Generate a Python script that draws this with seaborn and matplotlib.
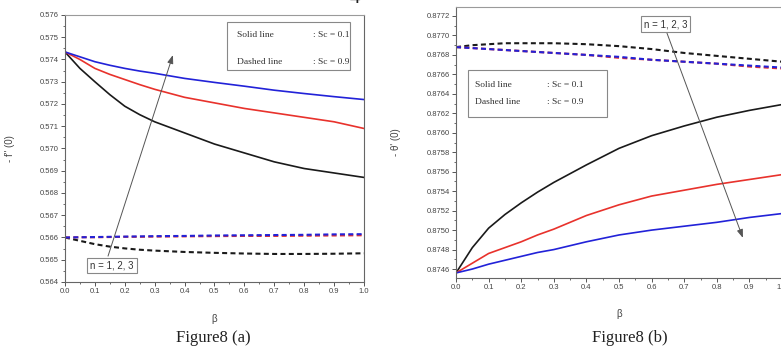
import numpy as np
import pandas as pd
import matplotlib
matplotlib.use('Agg')
import matplotlib.pyplot as plt
import seaborn as sns
from matplotlib.patches import Rectangle
from matplotlib.ticker import MultipleLocator, FormatStrFormatter


# ── Data ───────────────────────────────────────────────────────────────────────

beta = [0.0, 0.05, 0.1, 0.15, 0.2, 0.25, 0.3, 0.4, 0.5, 0.6, 0.7, 0.8, 0.9, 1.0]
n_values = [1, 2, 3]

# Figure8 (a): -f''(0)
fa_sc01_n1 = [0.57434, 0.57360, 0.57300, 0.57242, 0.57190, 0.57152, 0.57120, 0.57070, 0.57020,
              0.56980, 0.56940, 0.56910, 0.56890, 0.56870]
fa_sc01_n2 = [0.57434, 0.57400, 0.57360, 0.57333, 0.57310, 0.57287, 0.57266, 0.57230, 0.57205,
              0.57180, 0.57160, 0.57140, 0.57120, 0.57090]
fa_sc01_n3 = [0.57434, 0.57412, 0.57390, 0.57374, 0.57360, 0.57348, 0.57338, 0.57315, 0.57297,
              0.57280, 0.57262, 0.57247, 0.57233, 0.57220]
fa_sc09_n1 = [0.56600, 0.56585, 0.56570, 0.56559, 0.56551, 0.56545, 0.56541, 0.56535, 0.56531,
              0.56528, 0.56526, 0.56526, 0.56527, 0.56529]
fa_sc09_n2 = [0.56600, 0.56601, 0.56601, 0.56602, 0.56603, 0.56603, 0.56604, 0.56605, 0.56606,
              0.56607, 0.56607, 0.56608, 0.56609, 0.56610]
fa_sc09_n3 = [0.56600, 0.56601, 0.56602, 0.56603, 0.56604, 0.56605, 0.56606, 0.56607, 0.56609,
              0.56610, 0.56611, 0.56612, 0.56614, 0.56615]

# Figure8 (b): -theta'(0)
fb_sc01_n1 = [0.87456, 0.87482, 0.87502, 0.87516, 0.87528, 0.87539, 0.87549, 0.87567, 0.87584,
              0.87597, 0.87607, 0.87616, 0.87623, 0.87629]
fb_sc01_n2 = [0.87456, 0.87466, 0.87476, 0.87482, 0.87488, 0.87495, 0.87501, 0.87515, 0.87526,
              0.87535, 0.87541, 0.87547, 0.87552, 0.87557]
fb_sc01_n3 = [0.87456, 0.87460, 0.87465, 0.87469, 0.87473, 0.87477, 0.87480, 0.87488, 0.87495,
              0.87500, 0.87504, 0.87508, 0.87513, 0.87517]
fb_sc09_n1 = [0.87688, 0.87690, 0.87691, 0.87692, 0.87692, 0.87692, 0.87692, 0.87691, 0.87689,
              0.87686, 0.87682, 0.87679, 0.87676, 0.87673]
fb_sc09_n2 = [0.87688, 0.87687, 0.87686, 0.87685, 0.87684, 0.87683, 0.87682, 0.87680, 0.87677,
              0.87675, 0.87673, 0.87671, 0.87668, 0.87666]
fb_sc09_n3 = [0.87688, 0.87687, 0.87686, 0.87685, 0.87684, 0.87683, 0.87682, 0.87680, 0.87678,
              0.87675, 0.87673, 0.87671, 0.87669, 0.87667]

line_colors = {1: '#1a1a1a', 2: '#e8322c', 3: '#2222d8'}


def long_frame(curves):
    rows = []
    for (n, sc), vals in curves.items():
        for b, v in zip(beta, vals):
            rows.append({'beta': b, 'val': v, 'n': n, 'Sc': sc})
    return pd.DataFrame(rows)


def draw_curves(ax, df):
    sns.lineplot(data=df[df.Sc == 0.9], x='beta', y='val', hue='n', style='Sc',
                 palette=line_colors, dashes={0.9: (2.4, 1.6)}, lw=1.5,
                 legend=False, ax=ax)
    sns.lineplot(data=df[df.Sc == 0.1], x='beta', y='val', hue='n',
                 palette=line_colors, lw=1.2, legend=False, ax=ax)


def style_axes(ax, ystep, yfmt):
    ax.set_xlim(0, 1)
    ax.xaxis.set_major_locator(MultipleLocator(0.1))
    ax.xaxis.set_minor_locator(MultipleLocator(0.05))
    ax.xaxis.set_major_formatter(FormatStrFormatter('%.1f'))
    ax.yaxis.set_major_locator(MultipleLocator(ystep))
    ax.yaxis.set_minor_locator(MultipleLocator(ystep / 2))
    ax.yaxis.set_major_formatter(FormatStrFormatter(yfmt))
    ax.tick_params(which='major', direction='out', length=3, width=0.7,
                   color='#555555', labelsize=5.5, labelcolor='#444444', pad=1.5)
    ax.tick_params(which='minor', direction='out', length=1.6, width=0.6, color='#555555')
    for s in ax.spines.values():
        s.set_color('#666666')
        s.set_linewidth(0.8)
    ax.spines['top'].set_color('#9a9a9a')
    ax.set_xlabel('β', fontsize=7, color='#444444')
    ax.set_ylabel('')


def legend_box(ax, x0, y0, x1, y1, tx, tcol, ytop, ybot):
    ax.add_patch(Rectangle((x0, y0), x1 - x0, y1 - y0, transform=ax.transAxes,
                           fill=False, ec='#888888', lw=0.8))
    kw = dict(transform=ax.transAxes, fontsize=6.8, family='Liberation Serif',
              color='#333333', va='center')
    ax.text(tx, ytop, 'Solid line', **kw)
    ax.text(tx, ybot, 'Dashed line', **kw)
    ax.text(tcol, ytop, ': Sc = 0.1', **kw)
    ax.text(tcol, ybot, ': Sc = 0.9', **kw)


def n_box(ax, x, y):
    ax.text(x, y, 'n = 1, 2, 3', transform=ax.transAxes, fontsize=7,
            ha='center', va='center', color='#333333',
            bbox=dict(boxstyle='square,pad=0.3', fc='white', ec='#888888', lw=0.8))


def arrow(ax, start, end):
    ax.annotate('', xy=end, xytext=start, xycoords='axes fraction',
                textcoords='axes fraction',
                arrowprops=dict(arrowstyle='-|>,head_length=0.5,head_width=0.18',
                                color='#555555', lw=0.7, shrinkA=0, shrinkB=0))


if __name__ == '__main__':
    sns.set_style('ticks')
    plt.rcParams['font.family'] = ['Liberation Sans', 'DejaVu Sans']

    fig = plt.figure(figsize=(7.81, 3.51), dpi=100)

    # ── Figure8 (a) ────────────────────────────────────────────────────────────
    ax1 = fig.add_axes([0.0832, 0.1966, 0.3828, 0.7607])
    df_a = long_frame({(1, 0.1): fa_sc01_n1, (2, 0.1): fa_sc01_n2, (3, 0.1): fa_sc01_n3,
                       (1, 0.9): fa_sc09_n1, (2, 0.9): fa_sc09_n2, (3, 0.9): fa_sc09_n3})
    arrow(ax1, (0.144, 0.097), (0.361, 0.850))
    draw_curves(ax1, df_a)
    style_axes(ax1, 0.001, '%.3f')
    ax1.set_ylim(0.564, 0.576)
    ax1.xaxis.set_label_coords(0.5, -0.118)
    ax1.text(-0.184, 0.5, "- f'' (0)", transform=ax1.transAxes, rotation=90,
             fontsize=7, color='#444444', ha='center', va='center')
    legend_box(ax1, 0.542, 0.794, 0.953, 0.974, 0.575, 0.829, 0.925, 0.824)
    n_box(ax1, 0.157, 0.062)

    # ── Figure8 (b) ────────────────────────────────────────────────────────────
    ax2 = fig.add_axes([0.5839, 0.208, 0.4174, 0.772])
    df_b = long_frame({(1, 0.1): fb_sc01_n1, (2, 0.1): fb_sc01_n2, (3, 0.1): fb_sc01_n3,
                       (1, 0.9): fb_sc09_n1, (2, 0.9): fb_sc09_n2, (3, 0.9): fb_sc09_n3})
    arrow(ax2, (0.647, 0.904), (0.880, 0.148))
    draw_curves(ax2, df_b)
    style_axes(ax2, 0.0002, '%.4f')
    ax2.set_ylim(0.874508, 0.877292)
    ax2.xaxis.set_label_coords(0.5, -0.116)
    ax2.text(-0.184, 0.5, "- θ' (0)", transform=ax2.transAxes, rotation=90,
             fontsize=7, color='#444444', ha='center', va='center')
    legend_box(ax2, 0.037, 0.594, 0.463, 0.7675, 0.058, 0.279, 0.712, 0.649)
    n_box(ax2, 0.643, 0.937)

    # captions and the clipped page number
    cap = dict(fontsize=12, family='Liberation Serif', color='#222222', ha='center', va='center')
    fig.text(0.273, 0.037, 'Figure8 (a)', **cap)
    fig.text(0.807, 0.037, 'Figure8 (b)', **cap)
    fig.text(0.455, 1.005, '4', fontsize=15, family='Liberation Serif',
             color='#222222', ha='center', va='center')

    fig.savefig('out.png', dpi=100)
    plt.close(fig)
